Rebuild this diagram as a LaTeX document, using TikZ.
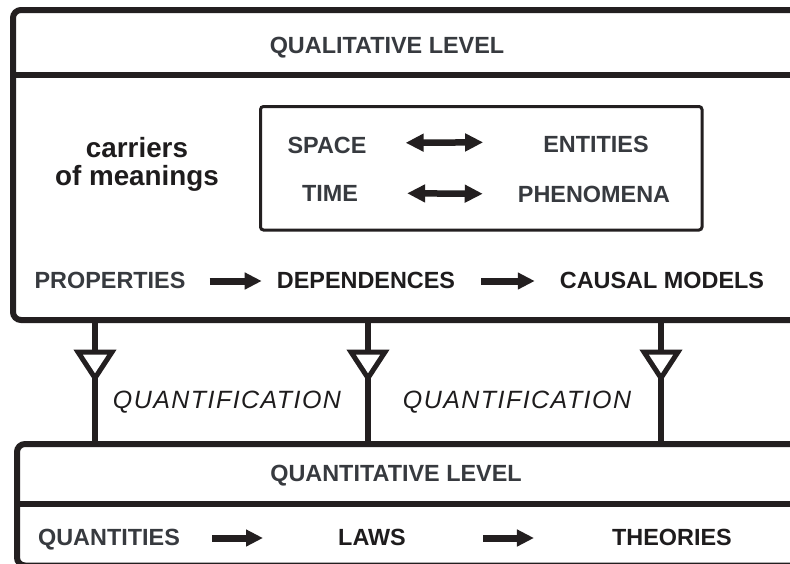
\documentclass[tikz,border=0pt]{standalone}
\usepackage{fontspec}
\setmainfont{Liberation Sans}
\usetikzlibrary{arrows.meta, positioning, calc}
\definecolor{inkline}{RGB}{35, 31, 32}
\definecolor{inkgray}{RGB}{55, 58, 63}
\definecolor{inkdark}{RGB}{30, 28, 29}

\begin{document}
\begin{tikzpicture}[
    x=1pt, y=-1pt,
    level/.style={draw=inkline, line width=6pt, rounded corners=8pt, outer sep=0pt,
        inner sep=0pt, anchor=north west},
    rule/.style={draw=inkline, line width=6pt},
    lbl/.style={font=\fontsize{23.4}{28}\selectfont\bfseries, text=inkgray, inner sep=0pt, anchor=base},
    lbldark/.style={lbl, text=inkdark},
    carrier/.style={font=\fontsize{27.8}{30}\selectfont\bfseries, text=inkdark, inner sep=0pt, anchor=base},
    quantlbl/.style={font=\fontsize{25}{30}\selectfont\itshape\addfontfeature{LetterSpace=5.8},
        text=inkdark, inner sep=0pt, anchor=base},
    fatarrow/.style={-{Triangle[length=17pt, width=16pt]}, line width=7pt, inkline},
    twoway/.style={{Triangle[length=18pt, width=17pt]}-{Triangle[length=18pt, width=17pt]},
        line width=6.5pt, inkline},
    link/.style={draw=inkline, line width=6pt},
    hollow/.style={draw=inkline, fill=white, line width=5pt, miter limit=10}
]
    \useasboundingbox (0,0) rectangle (790,563);
    \fill[white] (0,0) rectangle (790,563);
    \clip (0,0) rectangle (790,563);

    % qualitative level
    \node[level, minimum width=830pt, minimum height=310pt] (qual) at (13,10) {};
    \draw[rule] (qual.west |- 0,75) -- (qual.east |- 0,75);
    \node[lbl] (qualtitle) at (387,53) {QUALITATIVE LEVEL};

    \node[carrier] (carr1) at (137,157) {carriers};
    \node[carrier] (carr2) at (137,185) {of meanings};

    \node[draw=inkline, line width=3pt, rounded corners=3pt, outer sep=0pt, inner sep=0pt,
        anchor=north west, minimum width=441.5pt, minimum height=123.5pt] (meanbox) at (260.5,106.5) {};
    \node[lbl] (space) at (327,153) {SPACE};
    \node[lbl] (time) at (330,201) {TIME};
    \node[lbl] (entities) at (596,152) {ENTITIES};
    \node[lbl] (phenomena) at (594,202) {PHENOMENA};
    \draw[twoway, shorten <=39pt, shorten >=60pt] ([yshift=10pt]space.base east) -- ([yshift=10pt]entities.base west);
    \draw[twoway, shorten <=49pt, shorten >=35pt] ([yshift=8pt]time.base east) -- ([yshift=8pt]phenomena.base west);

    \node[lbl] (prop) at (110,288) {PROPERTIES};
    \node[lbldark] (dep) at (366,288) {DEPENDENCES};
    \node[lbldark] (causal) at (662,288) {CAUSAL MODELS};
    \draw[fatarrow, shorten <=24pt, shorten >=15pt] ([yshift=7pt]prop.base east) -- ([yshift=7pt]dep.base west);
    \draw[fatarrow, shorten <=26pt, shorten >=25pt] ([yshift=7pt]dep.base east) -- ([yshift=7pt]causal.base west);

    % quantitative level
    \node[level, minimum width=830pt, minimum height=121.5pt] (quant) at (17,444) {};
    \draw[rule] (quant.west |- 0,504) -- (quant.east |- 0,504);
    \node[lbl] (quanttitle) at (396,481) {QUANTITATIVE LEVEL};

    \node[lbl] (qties) at (109,545) {QUANTITIES};
    \node[lbldark] (laws) at (372,545) {LAWS};
    \node[lbldark] (theories) at (672,545) {THEORIES};
    \draw[fatarrow, shorten <=32pt, shorten >=75pt] ([yshift=7pt]qties.base east) -- ([yshift=7pt]laws.base west);
    \draw[fatarrow, shorten <=77pt, shorten >=78pt] ([yshift=7pt]laws.base east) -- ([yshift=7pt]theories.base west);

    % quantification links
    \coordinate (t1) at (95,352);  \coordinate (p1) at (95,378);
    \coordinate (t2) at (368,352); \coordinate (p2) at (368,378);
    \coordinate (t3) at (661,352); \coordinate (p3) at (661,378);
    \draw[link] (t1 |- qual.south) -- (t1);
    \draw[link] (p1) -- (p1 |- quant.north);
    \draw[hollow] ([xshift=-17pt]t1) -- ([xshift=17pt]t1) -- (p1) -- cycle;
    \draw[link] (t2 |- qual.south) -- (t2);
    \draw[link] (p2) -- (p2 |- quant.north);
    \draw[hollow] ([xshift=-17pt]t2) -- ([xshift=17pt]t2) -- (p2) -- cycle;
    \draw[link] (t3 |- qual.south) -- (t3);
    \draw[link] (p3) -- (p3 |- quant.north);
    \draw[hollow] ([xshift=-17pt]t3) -- ([xshift=17pt]t3) -- (p3) -- cycle;

    \node[quantlbl] (quantif1) at (227,408) {QUANTIFICATION};
    \node[quantlbl] (quantif2) at (517,408) {QUANTIFICATION};
\end{tikzpicture}
\end{document}
